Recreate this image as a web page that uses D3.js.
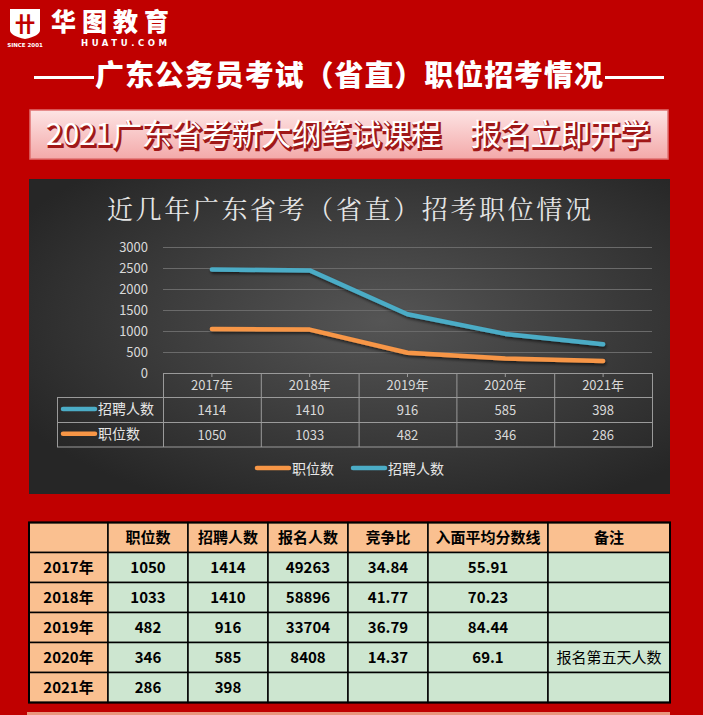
<!DOCTYPE html>
<html><head><meta charset="utf-8">
<script src="https://cdn.jsdelivr.net/npm/d3@7"></script>
<style>
html,body{margin:0;padding:0;background:#c00000;}
svg{display:block;}
</style></head>
<body>
<svg id="c" width="703" height="715"></svg>
<script>
const years = ['2017年','2018年','2019年','2020年','2021年'];
const positions = [1050,1033,482,346,286];
const recruits = [1414,1410,916,585,398];
const applicants = [49263,58896,33704,8408,null];
const ratios = ['34.84','41.77','36.79','14.37',null];
const scores = ['55.91','70.23','84.44','69.1',null];
const notes = ['','','','报名第五天人数',''];
const yTicks = [0,500,1000,1500,2000,2500,3000];
const seriesNames = ['职位数','招聘人数'];
const tableHeaders = ['','职位数','招聘人数','报名人数','竞争比','入面平均分数线','备注'];

const svg = d3.select('#c');
const CJK = '"Noto Sans CJK SC","Noto Sans",sans-serif';
const defs = svg.append('defs');

svg.append('rect').attr('width',703).attr('height',715).attr('fill','#c00000');

// ---- logo ----
const logo = svg.append('g');
logo.append('path').attr('d','M10,9 H40 V30 Q40,36 25,39 Q10,36 10,30 Z').attr('fill','#fff');
logo.append('text').attr('x',25).attr('y',32).attr('text-anchor','middle').attr('font-family',CJK)
  .attr('font-weight',900).attr('font-size',20).attr('fill','#c00000').text('卄');
logo.append('text').attr('x',25).attr('y',47).attr('text-anchor','middle').attr('font-family','"DejaVu Sans",sans-serif')
  .attr('font-weight','bold').attr('font-size',5.5).attr('fill','#fff').text('SINCE 2001');
logo.append('text').attr('x',51).attr('y',31).attr('font-family',CJK).attr('font-weight',900)
  .attr('font-size',25).attr('fill','#fff').attr('textLength',118).text('华图教育');
logo.append('text').attr('x',81).attr('y',46).attr('font-family','"DejaVu Sans",sans-serif').attr('font-weight','bold')
  .attr('font-size',8.5).attr('fill','#fff').attr('textLength',86).text('HUATU.COM');

// ---- header ----
svg.append('text').attr('x',349).attr('y',86).attr('text-anchor','middle').attr('font-family',CJK)
  .attr('font-weight',900).attr('font-size',29).attr('fill','#fff').attr('textLength',508)
  .text('广东公务员考试（省直）职位招考情况');
[[34,94],[605,664]].forEach(([a,b])=>{
  svg.append('line').attr('x1',a).attr('x2',b).attr('y1',77.5).attr('y2',77.5).attr('stroke','#fff').attr('stroke-width',3);
});

// ---- banner ----
const bg = defs.append('linearGradient').attr('id','ban').attr('x1',0).attr('y1',0).attr('x2',0).attr('y2',1);
bg.append('stop').attr('offset','0%').attr('stop-color','#fde4e4');
bg.append('stop').attr('offset','100%').attr('stop-color','#f3a9a9');
svg.append('rect').attr('x',30).attr('y',110).attr('width',638).attr('height',49)
  .attr('fill','url(#ban)').attr('stroke','#e07070').attr('stroke-width',1.5);
const bannerText = '2021广东省考新大纲笔试课程　报名立即开学';
svg.append('text').attr('x',349.5).attr('y',146.5).attr('text-anchor','middle').attr('font-family',CJK)
  .attr('font-size',30).attr('fill','#a01818').attr('textLength',604).attr('stroke','#a01818').attr('stroke-width',2.2)
  .text(bannerText);
svg.append('text').attr('x',348).attr('y',145).attr('text-anchor','middle').attr('font-family',CJK)
  .attr('font-size',30).attr('fill','#fff').attr('textLength',604).text(bannerText);

// ---- chart panel ----
const rg = defs.append('radialGradient').attr('id','pan').attr('cx','55%').attr('cy','45%').attr('r','65%');
rg.append('stop').attr('offset','0%').attr('stop-color','#555555');
rg.append('stop').attr('offset','100%').attr('stop-color','#262626');
svg.append('rect').attr('x',29).attr('y',179).attr('width',641).attr('height',315).attr('fill','url(#pan)');

svg.append('text').attr('x',349).attr('y',219).attr('text-anchor','middle')
  .attr('font-family','"Noto Serif CJK SC","Noto Serif SC",serif,'+CJK).attr('font-size',26).attr('fill','#e6e6e6')
  .attr('textLength',484).text('近几年广东省考（省直）招考职位情况');

const x = d3.scaleBand().domain(years).range([163,652]);
const y = d3.scaleLinear().domain([0,3000]).range([373,247]);

// gridlines
svg.append('g').selectAll('line').data(yTicks.filter(d=>d>0)).join('line')
  .attr('x1',163).attr('x2',652).attr('y1',d=>y(d)+0.5).attr('y2',d=>y(d)+0.5)
  .attr('stroke','#6a6a6a').attr('stroke-width',1);

// y axis
const yAxis = svg.append('g').attr('transform','translate(148,0)')
  .call(d3.axisLeft(y).tickValues(yTicks).tickFormat(d3.format('d')).tickSize(0).tickPadding(0));
yAxis.select('.domain').remove();
yAxis.selectAll('text').attr('font-family',CJK).attr('font-size',13).attr('fill','#d9d9d9');

// stacked lines
const data = years.map((yr,i)=>({year:yr,pos:positions[i],rec:recruits[i]}));
const stacked = d3.stack().keys(['pos','rec'])(data);
const colors = {pos:'#f79646',rec:'#4bacc6'};
const flt = defs.append('filter').attr('id','sh').attr('x','-10%').attr('y','-50%').attr('width','120%').attr('height','200%');
flt.append('feDropShadow').attr('dx',1).attr('dy',2).attr('stdDeviation',1.5).attr('flood-color','#000').attr('flood-opacity',0.6);
const line = d3.line().x(d=>x(d.data.year)+x.bandwidth()/2).y(d=>y(d[1]));
stacked.forEach(s=>{
  svg.append('path').datum(s).attr('d',line).attr('fill','none').attr('stroke',colors[s.key])
    .attr('stroke-width',4.5).attr('stroke-linecap','round').attr('stroke-linejoin','round').attr('filter','url(#sh)');
});

// data table in chart
const tg = svg.append('g');
const rowY = [373,397.5,422.5,447];
const gridC = '#9a9a9a';
tg.append('line').attr('x1',163).attr('x2',652).attr('y1',373.5).attr('y2',373.5).attr('stroke',gridC);
[rowY[1],rowY[2],rowY[3]].forEach(v=>tg.append('line').attr('x1',57).attr('x2',652).attr('y1',v).attr('y2',v).attr('stroke',gridC));
tg.append('line').attr('x1',57.5).attr('x2',57.5).attr('y1',rowY[1]).attr('y2',rowY[3]).attr('stroke',gridC);
years.forEach(yr=>tg.append('line').attr('x1',x(yr)+0.5).attr('x2',x(yr)+0.5).attr('y1',373).attr('y2',rowY[3]).attr('stroke',gridC));
tg.append('line').attr('x1',652.5).attr('x2',652.5).attr('y1',373).attr('y2',rowY[3]).attr('stroke',gridC);
years.forEach(yr=>tg.append('line').attr('x1',x(yr)+x.bandwidth()/2).attr('x2',x(yr)+x.bandwidth()/2).attr('y1',373).attr('y2',377).attr('stroke',gridC));
tg.selectAll('.yl').data(years).join('text').attr('x',d=>x(d)+x.bandwidth()/2).attr('y',390)
  .attr('text-anchor','middle').attr('font-family',CJK).attr('font-size',13).attr('fill','#d9d9d9').text(d=>d);
const tableRows = [{name:seriesNames[1],vals:recruits,c:colors.rec},{name:seriesNames[0],vals:positions,c:colors.pos}];
tableRows.forEach((r,i)=>{
  const cy = (rowY[i+1]+rowY[i+2])/2;
  tg.append('line').attr('x1',63).attr('x2',95).attr('y1',cy-1).attr('y2',cy-1).attr('stroke',r.c).attr('stroke-width',4.5).attr('stroke-linecap','round');
  tg.append('text').attr('x',98).attr('y',cy+4).attr('font-family',CJK).attr('font-size',14).attr('fill','#e6e6e6').text(r.name);
  r.vals.forEach((v,j)=>tg.append('text').attr('x',x(years[j])+x.bandwidth()/2).attr('y',cy+5)
    .attr('text-anchor','middle').attr('font-family',CJK).attr('font-size',13).attr('fill','#d9d9d9').text(v));
});

// legend
const lg = svg.append('g');
[{n:seriesNames[0],c:colors.pos,x0:257},{n:seriesNames[1],c:colors.rec,x0:353}].forEach(d=>{
  lg.append('line').attr('x1',d.x0).attr('x2',d.x0+32).attr('y1',468).attr('y2',468).attr('stroke',d.c).attr('stroke-width',4.5).attr('stroke-linecap','round');
  lg.append('text').attr('x',d.x0+35).attr('y',473.5).attr('font-family',CJK).attr('font-size',14).attr('fill','#e6e6e6').text(d.n);
});

// ---- bottom table ----
const colX = [29,108,188,268,348,428,548,670];
const rowT = [522.5,552.5,582.5,612.5,642.5,672.5,702.5];
const bt = svg.append('g');
const fmt = v => v==null ? '' : String(v);
const bodyRows = years.map((yr,i)=>[yr,fmt(positions[i]),fmt(recruits[i]),fmt(applicants[i]),fmt(ratios[i]),fmt(scores[i]),notes[i]]);
const allRows = [tableHeaders].concat(bodyRows);
allRows.forEach((row,ri)=>{
  row.forEach((cell,ci)=>{
    const peach = ri===0 || ci===0;
    bt.append('rect').attr('x',colX[ci]).attr('y',rowT[ri]).attr('width',colX[ci+1]-colX[ci]).attr('height',rowT[ri+1]-rowT[ri])
      .attr('fill',peach?'#fac090':'#cde6d0').attr('stroke','#000').attr('stroke-width',1.5);
    if(cell!==''){
      bt.append('text').attr('x',(colX[ci]+colX[ci+1])/2).attr('y',rowT[ri]+20.5)
        .attr('text-anchor','middle').attr('font-family',CJK)
        .attr('font-weight',(ri>0&&ci===6)?'normal':'bold').attr('font-size',15).attr('fill','#000').text(cell);
    }
  });
});
bt.append('rect').attr('x',29).attr('y',522.5).attr('width',641).attr('height',180).attr('fill','none').attr('stroke','#000').attr('stroke-width',2);

svg.append('rect').attr('x',27).attr('y',712).attr('width',643).attr('height',3).attr('fill','#e8957c');
</script>
</body></html>
